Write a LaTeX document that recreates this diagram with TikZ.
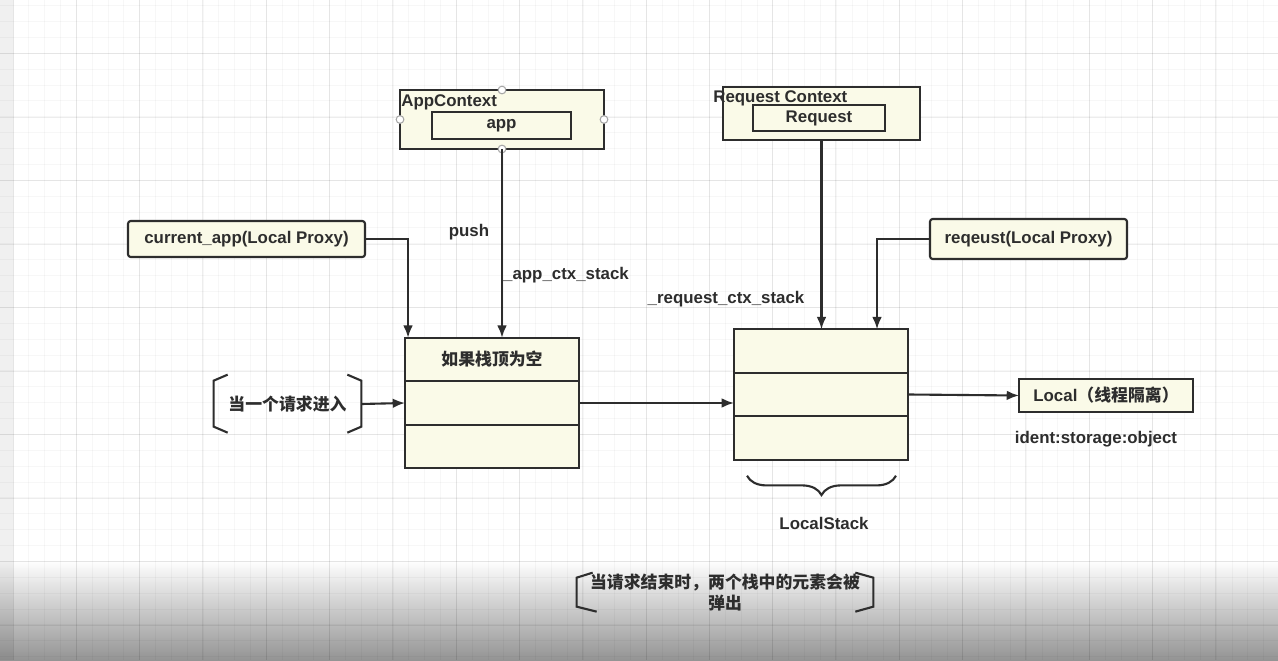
\documentclass[tikz,border=0pt]{standalone}
\usepackage{fontspec}
\setmainfont{Liberation Sans}
\newfontfamily\cjk{Noto Sans CJK SC}
\usetikzlibrary{positioning,arrows.meta,decorations.pathreplacing}
\definecolor{boxfill}{RGB}{250,250,232}
\definecolor{ink}{RGB}{45,45,45}
\tikzset{
  box/.style={draw=ink,fill=boxfill,line width=1.2pt,inner sep=0pt,outer sep=0pt},
  cell/.style={box,minimum width=3.48cm,minimum height=0.87cm},
  proxy/.style={box,rounded corners=1.5pt},
  arr/.style={draw=ink,line width=1.2pt,-{Latex[length=7pt,width=5.5pt]}},
  bracket/.style={draw=ink,line width=1.2pt},
  handle/.style={draw=gray!70,fill=white,line width=0.6pt},
  minorline/.style={draw=black,draw opacity=0.03,line width=0.4pt},
  majorline/.style={draw=black,draw opacity=0.07,line width=0.5pt}
}
\begin{document}
\begin{tikzpicture}[x=0.02cm,y=-0.02cm,every node/.style={font=\fontsize{9.6}{12.5}\selectfont\bfseries,text=ink}]
\useasboundingbox (0,0) rectangle (1278,660);
\fill[white] (0,0) rectangle (1278,660);
\shade[top color=white,bottom color=black!42] (0,560) rectangle (1278,660);
\fill[black,opacity=0.06] (0,0) rectangle (13,660);
\foreach \i in {0,...,80} \draw[minorline] (13+\i*15.83,0) -- ++(0,660);
\foreach \i in {0,...,42} \draw[minorline] (0,5.5+\i*15.88) -- ++(1278,0);
\foreach \i in {0,...,20} \draw[majorline] (13+\i*63.3,0) -- ++(0,660);
\foreach \i in {0,...,10} \draw[majorline] (0,-10+\i*63.5) -- ++(1278,0);

\node[box,minimum width=4.08cm,minimum height=1.18cm] (appctx) at (502,119.5) {};
\node[anchor=base west,inner sep=0pt] (appctxlbl) at (401,106) {AppContext};
\node[box,minimum width=2.78cm,minimum height=0.54cm] (app) at (501.5,125.5) {app};
\foreach \a in {north,south,east,west} \draw[handle] (appctx.\a) circle[radius=2.2pt];

\node[box,minimum width=3.94cm,minimum height=1.06cm] (reqctx) at (821.5,113.5) {};
\node[anchor=base west,inner sep=0pt] (reqctxlbl) at (713,102) {Request Context};
\node[box,minimum width=2.64cm,minimum height=0.52cm] (request) at (819,118) {Request};

\node[proxy,minimum width=4.74cm,minimum height=0.72cm] (cur) at (246.5,239) {current\_app(Local Proxy)};
\node[proxy,minimum width=3.94cm,minimum height=0.8cm] (req) at (1028.5,239) {reqeust(Local Proxy)};

\node[cell] (s1a) at (492,359.5) {\cjk 如果栈顶为空};
\node[cell,below=0pt of s1a] (s1b) {};
\node[cell,below=0pt of s1b] (s1c) {};

\node[cell] (s2a) at (821,351) {};
\node[cell,below=0pt of s2a] (s2b) {};
\node[cell,below=0pt of s2b] (s2c) {};

\node[box,minimum width=3.48cm,minimum height=0.66cm] (local) at (1106,395.5) {Local{\cjk（线程隔离）}};
\node (ident) at (1096,439) {ident:storage:object};

\node[minimum width=2.94cm,minimum height=1.16cm,inner sep=0pt] (enter) at (287.5,404) {\cjk 当一个请求进入};
\draw[bracket] ([shift={(14,0)}]enter.north west) -- ++(-14,6) -- ++(0,46) -- ++(14,6);
\draw[bracket] ([shift={(-14,0)}]enter.north east) -- ++(14,6) -- ++(0,46) -- ++(-14,6);

\node[minimum width=5.92cm,minimum height=0.78cm,inner sep=0pt,align=center] (note) at (725,592.5) {\cjk 当请求结束时，两个栈中的元素会被\\\cjk 弹出};
\draw[bracket] ([shift={(16,0)}]note.north west) -- ++(-16,5) -- ++(0,29) -- ++(20,5);
\draw[bracket] ([shift={(-18,0)}]note.north east) -- ++(18,5) -- ++(0,29) -- ++(-18,5);

\node (push) at (469,232) {push};
\node (appstack) at (566,275) {\_app\_ctx\_stack};
\node (reqstack) at (726,299) {\_request\_ctx\_stack};

\draw[arr] (appctx.south) -- (appctx.south |- s1a.north);
\draw[arr] (cur.east) -| ([shift={(3,0)}]s1a.north west);
\draw[arr] (reqctx.south) -- (reqctx.south |- s2a.north);
\draw[arr] (req.west) -| ([shift={(56,0)}]s2a.north);
\draw[arr] (enter.east) -- (s1b.west);
\draw[arr] (s1b.east) -- (s1b.east -| s2b.west);
\draw[arr] (s2b.east) -- (local.west);

\draw[bracket,decorate,decoration={brace,mirror,amplitude=11pt}] ([shift={(13,16)}]s2c.south west) -- ([shift={(-12,16)}]s2c.south east);
\node (lstack) at (824,523) {LocalStack};
\end{tikzpicture}
\end{document}
